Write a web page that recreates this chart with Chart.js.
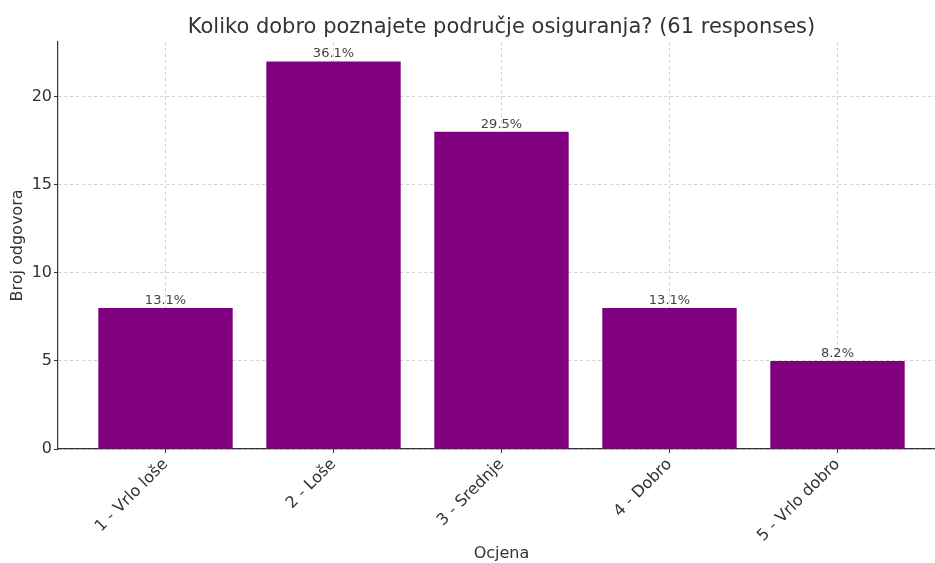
<!DOCTYPE html>
<html>
<head>
<meta charset="utf-8">
<script src="https://cdn.jsdelivr.net/npm/chart.js@4"></script>
<style>
  html, body { margin: 0; padding: 0; overflow: hidden; background: #fff; }
  #wrap { width: 945px; height: 563px; }
</style>
</head>
<body>
<div id="wrap"><canvas id="chart" width="945" height="563"></canvas></div>
<script>
const titleText = "Koliko dobro poznajete područje osiguranja? (61 responses)";
const categories = ["1 - Vrlo loše", "2 - Loše", "3 - Srednje", "4 - Dobro", "5 - Vrlo dobro"];
const counts = [8, 22, 18, 8, 5];
const percentLabels = ["13.1%", "36.1%", "29.5%", "13.1%", "8.2%"];
const yTicks = [0, 5, 10, 15, 20];

const font = "'DejaVu Sans', sans-serif";
const gridColor = "rgba(176,176,176,0.6)";

// title centred over the plot area, like the original
const titlePlugin = {
	id: "plotTitle",
	afterDraw(chart) {
		const { ctx, chartArea } = chart;
		ctx.save();
		ctx.font = "21px " + font;
		ctx.fillStyle = "#333";
		ctx.textAlign = "center";
		ctx.textBaseline = "alphabetic";
		ctx.fillText(titleText, (chartArea.left + chartArea.right) / 2, 33);
		ctx.restore();
	},
};

// percentage over each bar
const barLabels = {
	id: "barLabels",
	afterDatasetsDraw(chart) {
		const { ctx } = chart;
		const meta = chart.getDatasetMeta(0);
		ctx.save();
		ctx.font = "13px " + font;
		ctx.fillStyle = "#444";
		ctx.textAlign = "center";
		ctx.textBaseline = "bottom";
		meta.data.forEach((bar, i) => {
			ctx.fillText(percentLabels[i], bar.x, bar.y - 1);
		});
		ctx.restore();
	},
};

const ctx = document.getElementById("chart").getContext("2d");
new Chart(ctx, {
	type: "bar",
	data: {
		datasets: [
			{
				data: counts.map((v, i) => ({ x: i, y: v })),
				backgroundColor: "#800080",
				borderWidth: 0,
				barPercentage: 0.8,
				categoryPercentage: 1,
			},
		],
	},
	options: {
		responsive: false,
		animation: false,
		layout: { padding: { top: 42, left: 0, right: 0, bottom: 0 } },
		plugins: {
			legend: { display: false },
			tooltip: { enabled: false },
			title: { display: false },
		},
		scales: {
			x: {
				type: "linear",
				min: -0.64,
				max: 4.64,
				offset: false,
				z: 1,
				afterBuildTicks: (s) => {
					s.ticks = categories.map((_, i) => ({ value: i }));
				},
				afterFit: (s) => {
					s.height = 114;
				},
				ticks: {
					autoSkip: false,
					minRotation: 45,
					maxRotation: 45,
					padding: 2,
					color: "#333",
					font: { family: font, size: 16 },
					callback: (v) => categories[v],
				},
				grid: {
					offset: false,
					color: gridColor,
					tickColor: "#333",
					tickLength: 4,
					tickBorderDash: [],
				},
				border: { color: "#333", width: 1.2, dash: [3, 3] },
				title: {
					display: true,
					text: "Ocjena",
					color: "#333",
					font: { family: font, size: 16 },
					padding: { top: 0, bottom: 0 },
				},
			},
			y: {
				min: 0,
				max: 23.1,
				z: 1,
				afterBuildTicks: (s) => {
					s.ticks = yTicks.map((v) => ({ value: v }));
				},
				afterFit: (s) => {
					s.width = 58;
				},
				ticks: {
					padding: 2,
					color: "#333",
					font: { family: font, size: 16 },
				},
				grid: {
					color: gridColor,
					tickColor: "#333",
					tickLength: 4,
					tickBorderDash: [],
				},
				border: { color: "#333", width: 1.2, dash: [3, 3] },
				title: {
					display: true,
					text: "Broj odgovora",
					color: "#333",
					font: { family: font, size: 16 },
					padding: { top: 8, bottom: 0 },
				},
			},
		},
	},
	plugins: [titlePlugin, barLabels],
});
</script>
</body>
</html>
